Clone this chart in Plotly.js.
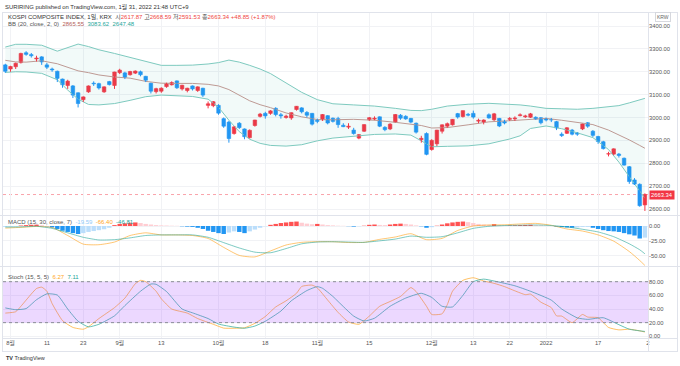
<!DOCTYPE html>
<html><head><meta charset="utf-8">
<script src="https://cdn.plot.ly/plotly-3.0.1.min.js"></script>
<style>html,body{margin:0;padding:0;background:#fff;}#chart{width:680px;height:366px;}</style>
</head><body><div id="chart"></div>
<script>
// ---------- DATA (index -1 = 2021-07-30 ... 122 = 2022-01-28, trading days) ----------
const firstIdx = -1;
const openP = [3230,
3212,3222,3240,3283,3275,3256,3265,3230,3212,3202,
3168,3140,3138,3108,3078,3112,3150,3148,3112,3157,
3140,3196,3195,3187,3194,3200,3180,3150,3113,3115,
3135,3143,3160,3125,3118,3138,3118,3128,3053,3052,
3053,2995,2980,2930,2975,2950,2912,2965,3005,3018,
3018,3040,3012,3000,2998,3035,3042,3022,3018,2988,
2990,3008,2997,2995,2966,2958,2945,2910,2940,2990,
2993,3003,2957,2950,2980,3010,3005,2996,2975,2903,
2930,2860,2885,2940,2962,2968,3017,3004,3014,3018,
2984,2980,3012,2990,2996,2983,2992,2994,3008,3003,
3001,3001,2999,2996,2991,2982,2927,2931,2945,2932,
2950,2977,2940,2917,2894,2840,2840,2840,2822,2785,
2727,2708,2617.87];
const highP = [3235,
3226,3240,3283,3290,3282,3270,3268,3238,3218,3205,
3170,3165,3142,3110,3092,3140,3158,3152,3136,3160,
3200,3213,3200,3204,3206,3205,3182,3152,3130,3132,
3152,3158,3162,3143,3130,3140,3136,3130,3070,3072,
3058,3000,2985,2962,2980,2952,2948,2990,3020,3025,
3032,3045,3020,3012,3022,3050,3045,3028,3020,2995,
3015,3010,3000,3003,2975,2975,2955,2928,2970,3002,
3005,3005,2962,2975,3015,3015,3010,2998,2978,2920,
2935,2905,2946,2970,2978,2993,3020,3030,3020,3030,
2995,2992,3018,3020,2998,2990,3002,3005,3018,3012,
3020,3005,3002,3000,2998,2985,2935,2958,2950,2936,
2973,2980,2945,2920,2898,2850,2865,2845,2825,2788,
2735,2712,2668.59];
const lowP = [3195,
3200,3212,3236,3270,3262,3245,3230,3212,3200,3155,
3130,3125,3085,3044,3068,3108,3138,3122,3108,3140,
3125,3190,3168,3183,3190,3180,3155,3105,3105,3108,
3130,3140,3125,3118,3110,3118,3112,3090,3040,3045,
3012,2955,2890,2925,2950,2905,2908,2960,3000,2995,
3012,3005,2995,2995,2990,3030,3018,3000,2965,2975,
2985,2970,2978,2955,2958,2950,2925,2905,2937,2985,
2988,2958,2940,2945,2978,2990,2990,2975,2930,2890,
2835,2855,2875,2930,2955,2965,2995,3000,3005,2995,
2975,2970,2995,2985,2958,2970,2985,2985,3005,2998,
2998,2990,2970,2983,2980,2945,2915,2928,2922,2920,
2945,2955,2915,2885,2860,2830,2835,2825,2790,2710,
2705,2610,2591.53];
const closeP = [3202,
3223,3237,3280,3276,3270,3260,3243,3220,3208,3171,
3143,3159,3098,3061,3090,3138,3147,3129,3134,3144,
3199,3207,3176,3201,3203,3187,3163,3115,3126,3128,
3149,3153,3130,3141,3128,3125,3134,3098,3060,3069,
3019,2962,2908,2959,2956,2916,2944,2989,3015,3007,
3029,3013,3007,3006,3021,3049,3025,3010,2971,2983,
3013,2976,2983,2969,2960,2962,2930,2925,2969,2999,
2997,2962,2947,2971,3013,2997,2994,2980,2936,2909,
2839,2900,2945,2968,2973,2992,3002,3030,3010,3002,
2988,2989,2998,3016,2963,2976,2996,2998,3012,3007,
3016,2993,2977,2989,2989,2954,2921,2955,2927,2927,
2972,2962,2922,2895,2864,2842,2863,2834,2792,2720,
2709,2614.49,2663.34];

// Bollinger Bands (20, close, 2)
const bbIdx   = [-1,1,3,6,9,11,13,15,17,20,23,26,29,32,35,38,40,42,44,46,48,50,53,56,59,62,66,70,74,77,79,81,84,88,92,96,98,100,103,106,109,112,115,117,119,121,122];
const bbUpper = [3308,3320,3320,3316,3290,3305,3321,3310,3296,3280,3262,3243,3228,3228,3229,3234,3240,3251,3242,3228,3212,3192,3152,3110,3078,3060,3055,3050,3040,3031,3030,3036,3050,3058,3062,3059,3055,3050,3040,3038,3036,3040,3046,3052,3064,3078,3083.62];
const bbBasis = [3250,3243,3242,3248,3235,3221,3204,3196,3186,3177,3172,3158,3150,3149,3149,3145,3138,3122,3097,3073,3056,3043,3020,3003,2991,2990,2992,2988,2979,2972,2965,2954,2956,2968,2981,2986,2989,2992,2996,2988,2978,2969,2945,2925,2902,2878,2865.55];
const bbLower = [3197,3200,3199,3193,3165,3120,3080,3057,3055,3061,3075,3091,3098,3095,3092,3080,3045,2988,2938,2905,2887,2878,2875,2881,2898,2910,2919,2926,2928,2923,2898,2872,2874,2876,2885,2906,2920,2952,2963,2951,2933,2912,2860,2805,2741,2675,2647.48];

// MACD (15, 30, close, 7)
const macdIdx    = [-1,2,5,8,11,14,17,20,23,26,29,32,35,38,41,44,47,50,53,56,59,62,65,68,71,74,77,80,83,86,89,92,95,98,101,104,107,110,113,116,119,121,122];
const macdLine   = [-3.5,-2.3,-0.8,-2.5,-16,-30.5,-31.5,-27,-16,-11.5,-15,-15,-16,-21,-36,-49.5,-52,-42,-32,-27.5,-26.4,-26.5,-27.8,-27.5,-22.5,-18.5,-13,-23,-20.8,-7.5,0,1.7,2,3.4,4.4,1.2,-5,-8.5,-15,-25.5,-43,-58,-66.40];
const signalLine = [-1.8,-1.5,-0.5,-4,-11.5,-19,-23.5,-23,-20,-16,-15,-15,-15,-19,-28,-37,-44,-45,-38,-30,-27,-26.5,-27,-27.5,-25,-22,-17,-19,-18,-11.5,-4,-0.5,0.8,1.3,1.7,0.8,-1.5,-5.5,-10,-18,-30,-40,-46.81];
const histVals = [-1.5,
-1,-0.5,0.8,1.5,2,2.2,1.5,-0.5,-2.5,-5,
-8,-10,-12,-13.5,-12,-10,-8.5,-7,-5.5,-3,
1.5,3.5,4.5,5.5,6,5,3.5,2.5,1.5,1,
0.8,0.5,0.3,-0.5,-1,-1.5,-3,-5,-8,-10,
-12,-13.5,-11,-9,-10,-12,-9,-6,-3,-0.5,
2,3.5,5,6,7,7.5,5.5,4,3,3.5,
2.5,1.5,1,0.5,0.3,-0.3,-1,-0.5,0.5,2,
2.5,1.8,1.5,2.5,3.5,4,3.5,2.5,1,-0.5,
-3,-2,0.5,2.5,4.5,6,7,7.5,6.5,5,
3.5,2.5,2,3,1.5,1,1,1.2,1.5,1.8,
2,1.5,1,0.5,0.2,-1,-2,-2.5,-3,-2.5,
-1.5,-1.5,-3,-5,-7,-8.5,-9,-10,-12,-14,
-16,-21,-19.59];

// Stoch (15, 5, 5)
const kIdx = [-1,1,2,4,5,6,7,8,10,12,14,15,17,20,22,24,25,26,28,29,31,34,36,39,41,43,45,47,49,51,53,55,56,58,59,61,63,65,67,69,71,73,75,77,78,80,81,83,84,85,87,89,91,93,95,97,99,100,102,104,105,106,108,110,111,113,115,117,119,121,122];
const kVals = [34,36,44,62,70,72,66,48,23,13,10.4,14,26,42,56,77,82,80,66,55,40,34,26,17.6,12,11.8,12.5,19,29,43,52,63,73,75,71,53,35,21,17.6,29.6,44,51,58.4,71.4,65.6,44,32,33,46.4,66,82,85.8,81,77.6,72.8,66.6,61,61.8,50,42,30,29.6,20,32,28.2,27.2,13,9.4,10.4,8,6.27];
const dIdx = [-1,1,3,5,7,9,11,13,15,17,20,22,25,27,28,30,33,35,38,40,43,45,47,49,52,54,57,59,60,62,63,66,68,70,73,76,79,81,83,85,87,89,91,93,97,100,104,106,109,111,114,117,119,121,122];
const dVals = [41.6,39,40.6,53.6,62.2,60.5,40,22,13.8,17.6,30,45,66,76.6,76.2,65.6,40,34.4,26,18,13.5,11.8,15,22,37,52,67,72.8,70.4,58.4,51,29.6,22.4,26.5,44,56,63,57,44,43,60,80,83.8,81,74,66,53,40,27,24.8,27.2,17,10.4,8,7.11];

// axis ticks
const priceTicks = [2600,2700,2800,2900,3000,3100,3200,3300,3400];
const macdTicks = [0,-25,-50];
const stochTicks = [0,20,40,60,80];
const timeTickIdx  = [0,7,14,21,29,40,49,59,69,81,89,96,103,113,122.55];
const timeTickText = ['8월','11','23','9월','13','10월','18','11월','15','12월','13','22','2022','17','2'];

// ---------- LAYOUT GEOMETRY ----------
const W=680,H=366,ML=3,MR=32,MT=13,MB=28;
const PW=W-ML-MR, PH=H-MT-MB;
const px=x=>(x-ML)/PW, py=y=>(H-MB-y)/PH;
const xLeft=-1.442, xRight=122.596;

const UP='#F23645', DN='#2196F3';
const FONT="'Liberation Sans','Noto Sans CJK KR',sans-serif";
const TXT='#4a4a4a';
const fmt2=v=>v.toFixed(2);

const n=openP.length;
const xs=openP.map((_,i)=>i+firstIdx);

// candle bodies and wicks, split by direction
function candleParts(isUp){
  const bx=[],bBase=[],bH=[],wx=[],wy=[];
  for(let i=0;i<n;i++){
    const up=closeP[i]>=openP[i];
    if(up!==isUp) continue;
    const lo=Math.min(openP[i],closeP[i]), hi=Math.max(openP[i],closeP[i]);
    bx.push(xs[i]); bBase.push(lo); bH.push(hi-lo);
    wx.push(xs[i],xs[i],null); wy.push(lowP[i],highP[i],null);
  }
  return {bx,bBase,bH,wx,wy};
}
const upP=candleParts(true), dnP=candleParts(false);

const histColors=histVals.map((v,i)=>{
  const p=i>0?histVals[i-1]:v;
  if(v>=0) return v>=p?'#FF5252':'#FFCDD2';
  return v<p?'#2196F3':'#BBDEFB';
});

const traces=[
  {type:'scatter',mode:'lines',x:bbIdx,y:bbUpper,line:{color:'#7ECABF',width:1},xaxis:'x',yaxis:'y',hoverinfo:'skip'},
  {type:'scatter',mode:'lines',x:bbIdx,y:bbLower,line:{color:'#7ECABF',width:1},fill:'tonexty',fillcolor:'rgba(38,166,154,0.06)',xaxis:'x',yaxis:'y',hoverinfo:'skip'},
  {type:'scatter',mode:'lines',x:bbIdx,y:bbBasis,line:{color:'#BE9A94',width:1},xaxis:'x',yaxis:'y',hoverinfo:'skip'},
  {type:'scatter',mode:'lines',x:upP.wx,y:upP.wy,line:{color:UP,width:1},xaxis:'x',yaxis:'y',hoverinfo:'skip',connectgaps:false},
  {type:'scatter',mode:'lines',x:dnP.wx,y:dnP.wy,line:{color:DN,width:1},xaxis:'x',yaxis:'y',hoverinfo:'skip',connectgaps:false},
  {type:'bar',x:upP.bx,y:upP.bH,base:upP.bBase,width:0.68,marker:{color:UP,line:{color:UP,width:0.6}},xaxis:'x',yaxis:'y',hoverinfo:'skip'},
  {type:'bar',x:dnP.bx,y:dnP.bH,base:dnP.bBase,width:0.68,marker:{color:DN,line:{color:DN,width:0.6}},xaxis:'x',yaxis:'y',hoverinfo:'skip'},
  {type:'bar',x:xs,y:histVals,marker:{color:histColors,line:{width:0}},xaxis:'x',yaxis:'y2',hoverinfo:'skip'},
  {type:'scatter',mode:'lines',x:macdIdx,y:macdLine,line:{color:'rgba(255,152,0,0.55)',width:1,shape:'spline',smoothing:0.6},xaxis:'x',yaxis:'y2',hoverinfo:'skip'},
  {type:'scatter',mode:'lines',x:macdIdx,y:signalLine,line:{color:'rgba(38,166,154,0.6)',width:1,shape:'spline',smoothing:0.6},xaxis:'x',yaxis:'y2',hoverinfo:'skip'},
  {type:'scatter',mode:'lines',x:kIdx,y:kVals,line:{color:'rgba(255,152,0,0.6)',width:1,shape:'spline',smoothing:0.5},xaxis:'x',yaxis:'y3',hoverinfo:'skip'},
  {type:'scatter',mode:'lines',x:dIdx,y:dVals,line:{color:'rgba(38,166,154,0.7)',width:1,shape:'spline',smoothing:0.5},xaxis:'x',yaxis:'y3',hoverinfo:'skip'}
];

const tickFont={family:FONT,size:5.8,color:'#555'};
const GRID='#F1F2F5';
const layout={
  width:W,height:H,margin:{l:ML,r:MR,t:MT,b:MB},
  paper_bgcolor:'#fff',plot_bgcolor:'#fff',showlegend:false,bargap:0.15,barmode:'overlay',
  font:{family:FONT,size:6,color:TXT},
  xaxis:{domain:[0,1],range:[xLeft,xRight],anchor:'y3',tickvals:timeTickIdx,ticktext:timeTickText,
    tickfont:tickFont,ticks:'',showgrid:true,gridcolor:GRID,zeroline:false,showline:false,fixedrange:true},
  yaxis:{domain:[py(215),1],range:[2573.8,3456.83],side:'right',anchor:'x',tickvals:priceTicks,
    ticktext:priceTicks.map(fmt2),tickfont:tickFont,ticks:'',showgrid:true,gridcolor:GRID,zeroline:false,showline:false,fixedrange:true},
  yaxis2:{domain:[py(266),py(216)],range:[-67.34,16.84],side:'right',anchor:'x',tickvals:macdTicks,
    ticktext:macdTicks.map(fmt2),tickfont:tickFont,ticks:'',showgrid:true,gridcolor:GRID,zeroline:false,showline:false,fixedrange:true},
  yaxis3:{domain:[0,py(267)],range:[-2.49,101.54],side:'right',anchor:'x',tickvals:stochTicks,
    ticktext:stochTicks.map(fmt2),tickfont:tickFont,ticks:'',showgrid:true,gridcolor:GRID,zeroline:false,showline:false,fixedrange:true},
  shapes:[
    {type:'rect',xref:'paper',yref:'y3',x0:0,x1:1,y0:20,y1:80,fillcolor:'rgba(155,50,255,0.19)',line:{width:0},layer:'above'},
    {type:'line',xref:'paper',yref:'y3',x0:0,x1:1,y0:80,y1:80,line:{color:'#8A8D96',width:1,dash:'dot'},layer:'above'},
    {type:'line',xref:'paper',yref:'y3',x0:0,x1:1,y0:20,y1:20,line:{color:'#8A8D96',width:1,dash:'dot'},layer:'above'},
    {type:'line',xref:'paper',yref:'y',x0:0,x1:1,y0:closeP[n-1],y1:closeP[n-1],line:{color:'rgba(242,54,69,0.45)',width:1,dash:'dot'},layer:'below'},
    {type:'line',xref:'paper',yref:'paper',x0:px(0),x1:px(680),y0:py(215.5),y1:py(215.5),line:{color:'#E0E3EB',width:1}},
    {type:'line',xref:'paper',yref:'paper',x0:px(0),x1:px(680),y0:py(266.5),y1:py(266.5),line:{color:'#E0E3EB',width:1}},
    {type:'line',xref:'paper',yref:'paper',x0:px(648.5),x1:px(648.5),y0:py(12),y1:py(352),line:{color:'#E0E3EB',width:1}},
    {type:'line',xref:'paper',yref:'paper',x0:px(2),x1:px(678),y0:py(12.5),y1:py(12.5),line:{color:'#E0E3EB',width:1}},
    {type:'line',xref:'paper',yref:'paper',x0:px(2),x1:px(678),y0:py(338.5),y1:py(338.5),line:{color:'#E0E3EB',width:1}},
    {type:'line',xref:'paper',yref:'paper',x0:px(2),x1:px(678),y0:py(351.5),y1:py(351.5),line:{color:'#E0E3EB',width:1}},
    {type:'line',xref:'paper',yref:'paper',x0:px(2.5),x1:px(2.5),y0:py(12),y1:py(352),line:{color:'#E0E3EB',width:1}},
    {type:'line',xref:'paper',yref:'paper',x0:px(677.5),x1:px(677.5),y0:py(12),y1:py(352),line:{color:'#E0E3EB',width:1}}
  ],
  annotations:[]
};

const ann=(x,y,text,opt={})=>Object.assign({xref:'paper',yref:'paper',x:px(x),y:py(y),text,showarrow:false,
  xanchor:'left',yanchor:'middle',font:{family:FONT,size:6,color:TXT}},opt);
const sp=(c,t)=>`<span style="color:${c}">${t}</span>`;
const last=n-1;
const chg=closeP[last]-closeP[last-1], chgPct=chg/closeP[last-1]*100;
const RED='#F0473F';
const LF={family:FONT,size:6,color:TXT};
layout.annotations.push(
  ann(3,6,'SURIRING published on TradingView.com, 1월 31, 2022 21:48 UTC+9',{font:{family:FONT,size:5.9,color:'#333'}}),
  ann(6,17,sp('#333','KOSPI COMPOSITE INDEX, 1일, KRX')+'  '+sp('#555','시')+sp(RED,fmt2(openP[last]))+' '+sp('#555','고')+sp(RED,fmt2(highP[last]))+' '+sp('#555','저')+sp(RED,fmt2(lowP[last]))+' '+sp('#555','종')+sp(RED,fmt2(closeP[last]))+' '+sp(RED,(chg>=0?'+':'')+fmt2(chg)+' ('+(chg>=0?'+':'')+fmt2(chgPct)+'%)'),{font:LF}),
  ann(6,24.5,sp('#555','BB (20, close, 2, 0)')+'  '+sp('#B5625A',fmt2(bbBasis[bbBasis.length-1]))+'  '+sp('#26A69A',fmt2(bbUpper[bbUpper.length-1]))+'  '+sp('#26A69A',fmt2(bbLower[bbLower.length-1])),{font:LF}),
  ann(6,222,sp('#555','MACD (15, 30, close, 7)')+'  '+sp('#90CAF9',fmt2(histVals[histVals.length-1]))+'  '+sp('#FFA726',fmt2(macdLine[macdLine.length-1]))+'  '+sp('#26A69A',fmt2(signalLine[signalLine.length-1])),{font:LF}),
  ann(6,276.5,sp('#555','Stoch (15, 5, 5)')+'  '+sp('#FFA726',fmt2(kVals[kVals.length-1]))+'  '+sp('#26A69A',fmt2(dVals[dVals.length-1])),{font:LF}),
  {xref:'paper',yref:'paper',x:px(663),y:py(17),text:'KRW',showarrow:false,xanchor:'center',yanchor:'middle',
    font:{family:FONT,size:5,color:'#666'},bordercolor:'#D6D8DE',borderwidth:1,borderpad:1,bgcolor:'#fff'},
  {xref:'paper',yref:'y',x:px(662),y:closeP[last],text:fmt2(closeP[last]),showarrow:false,xanchor:'center',yanchor:'middle',
    font:{family:FONT,size:5.8,color:'#fff'},bgcolor:UP,borderpad:1},
  ann(4,358,'<b>TV</b> TradingView',{font:{family:FONT,size:5.5,color:'#333'}})
);

Plotly.newPlot('chart',traces,layout,{staticPlot:true,displayModeBar:false});
</script>
</body></html>
